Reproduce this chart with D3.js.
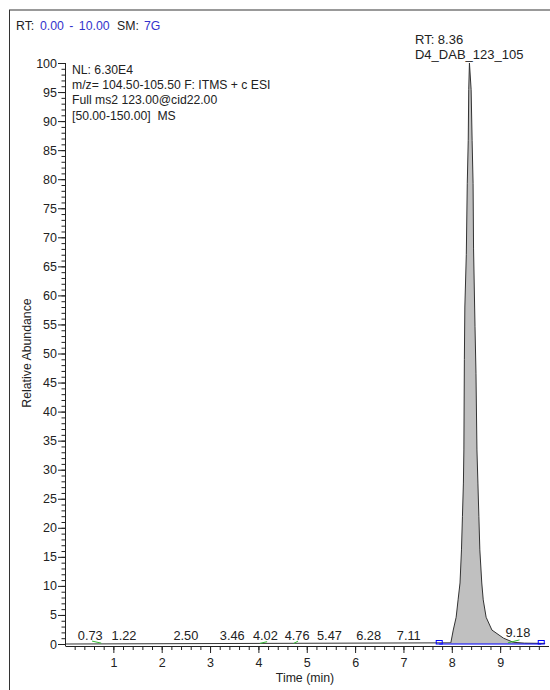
<!DOCTYPE html>
<html>
<head>
<meta charset="utf-8">
<script src="https://cdn.jsdelivr.net/npm/d3@7"></script>
<style>
  body { margin: 0; background: #fff; }
  svg { display: block; font-family: "Liberation Sans", Arial, sans-serif; }
</style>
</head>
<body>
<div id="chart"></div>
<script>
// chromatogram trace (time in min, relative abundance in %)
const timeMin = [0, 7.98, 8.03, 8.09, 8.13, 8.17, 8.20, 8.22, 8.24, 8.25, 8.26, 8.27, 8.30, 8.32, 8.34, 8.35, 8.365,
  8.40, 8.42, 8.44, 8.45, 8.48, 8.50, 8.52, 8.54, 8.56, 8.58, 8.62, 8.65, 8.71, 8.83, 9.07, 9.27, 9.50, 9.93];
const abundance = [0, 0.2, 2.4, 4.6, 7.6, 10.5, 16.2, 21.9, 27.7, 33.4, 49, 58, 67, 79.3, 86.7, 95.4, 100,
  95.4, 86.7, 79.3, 68, 54.6, 46.6, 33.4, 27.7, 21.9, 16.2, 10.5, 7.6, 4.6, 2.4, 1.0, 0.3, 0.15, 0.1];

// labelled minor peaks
const minorPeaks = [0.73, 1.22, 2.50, 3.46, 4.02, 4.76, 5.47, 6.28, 7.11, 9.18];
const minorLevels = [0.1, 0.1, 0.1, 0.1, 0.1, 0.1, 0.1, 0.1, 0.1, 0.7];
const labelNudge = [-10, 0, 0, 0, 6, 2, 0, 0, 0, 9];

// small green apex marks [t0, a0, t1, a1]
const greenMarks = [
  [0.56, 0.5, 0.75, 0.15],
  [4.03, 0.1, 4.18, 0.4],
  [4.73, 0.1, 4.82, 0.5],
  [9.16, 0.2, 9.40, 0.7]
];

// integration baseline
const baseStart = 7.74, baseEnd = 9.85;

const apexTime = 8.36;
const apexLines = ["RT: 8.36", "D4_DAB_123_105"];
const infoLines = ["NL: 6.30E4", "m/z= 104.50-105.50 F: ITMS + c ESI", "Full ms2 123.00@cid22.00", "[50.00-150.00]  MS"];

const W = 550, H = 690;
const svg = d3.select("#chart").append("svg")
  .attr("width", W).attr("height", H);

const x = d3.scaleLinear().domain([0, 10]).range([65, 548.5]);
const y = d3.scaleLinear().domain([0, 100]).range([644, 63]);
const axisY = 646;
const ink = "#222";

// frame
svg.append("line").attr("x1", 9).attr("x2", W).attr("y1", 10).attr("y2", 10)
  .attr("stroke", "#999").attr("stroke-width", 2);
svg.append("line").attr("x1", 9.5).attr("x2", 9.5).attr("y1", 10).attr("y2", H)
  .attr("stroke", "#333").attr("stroke-width", 1);

// header
const head = svg.append("text").attr("y", 30)
  .attr("font-size", 12.3).attr("fill", ink);
head.append("tspan").attr("x", 16).text("RT:");
head.append("tspan").attr("x", 40).attr("fill", "#3333cc")
  .attr("word-spacing", 2).text("0.00 - 10.00");
head.append("tspan").attr("x", 117).text("SM:");
head.append("tspan").attr("x", 144).attr("fill", "#3333cc").text("7G");

// info block
svg.append("g").selectAll("text").data(infoLines).join("text")
  .attr("x", 72).attr("y", (d, i) => 74 + i * 15.2)
  .attr("font-size", 12.2).attr("fill", ink)
  .style("white-space", "pre").text(d => d);

// peak fill and trace
const pts = timeMin.map((t, i) => [t, abundance[i]]);
svg.append("path").datum(pts.filter(d => d[0] >= 7.9))
  .attr("d", d3.area().x(d => x(d[0])).y0(y(0)).y1(d => y(d[1])))
  .attr("fill", "#c0c0c0");

svg.append("path").datum(pts)
  .attr("d", d3.line().x(d => x(d[0])).y(d => y(d[1])))
  .attr("fill", "none").attr("stroke", "#333").attr("stroke-width", 1);

// green apex marks
svg.append("g").selectAll("line").data(greenMarks).join("line")
  .attr("x1", d => x(d[0])).attr("y1", d => y(d[1]))
  .attr("x2", d => x(d[2])).attr("y2", d => y(d[3]))
  .attr("stroke", "#33bb33").attr("stroke-width", 1);

// integration baseline
svg.append("line").attr("x1", x(baseStart)).attr("x2", x(baseEnd))
  .attr("y1", y(0)).attr("y2", y(0))
  .attr("stroke", "#0000ff").attr("stroke-width", 1);
svg.append("g").selectAll("rect").data([baseStart, baseEnd]).join("rect")
  .attr("x", d => x(d) - 3).attr("y", y(0) - 3.5)
  .attr("width", 6).attr("height", 3.5)
  .attr("fill", "none").attr("stroke", "#0000ff").attr("stroke-width", 1);

// minor peak labels
svg.append("g").selectAll("text").data(minorPeaks).join("text")
  .attr("x", (d, i) => x(d) + labelNudge[i])
  .attr("y", (d, i) => y(minorLevels[i]) - 3)
  .attr("text-anchor", "middle").attr("font-size", 12.8).attr("fill", ink)
  .text(d => d.toFixed(2));

// apex label
const apexG = svg.append("g");
const apexText = apexG.selectAll("text").data(apexLines).join("text")
  .attr("y", (d, i) => 44 + i * 15)
  .attr("font-size", 13).attr("fill", ink).text(d => d);
const maxW = d3.max(apexText.nodes(), n => n.getComputedTextLength());
apexText.attr("x", x(apexTime) - maxW / 2);

// x axis
const xMinor = d3.range(1, 50).map(i => i / 5);
svg.append("g").attr("transform", `translate(0,${axisY})`)
  .call(d3.axisBottom(x).tickValues(xMinor).tickSize(4).tickSizeOuter(0).tickFormat(""))
  .call(g => g.selectAll("line").attr("stroke", ink))
  .call(g => g.select(".domain").attr("stroke", ink));
svg.append("g").attr("transform", `translate(0,${axisY})`)
  .call(d3.axisBottom(x).tickValues(d3.range(1, 10)).tickSize(7).tickPadding(5.5).tickFormat(d3.format("d")))
  .call(g => g.select(".domain").remove())
  .call(g => g.selectAll("line").attr("stroke", ink))
  .call(g => g.selectAll("text").attr("font-size", 12.5).attr("fill", ink)
    .attr("font-family", "Liberation Sans, Arial, sans-serif"));

// y axis
svg.append("g").attr("transform", "translate(65,0)")
  .call(d3.axisLeft(y).tickValues(d3.range(0, 101)).tickSize(3.5).tickFormat(""))
  .call(g => g.select(".domain").remove())
  .call(g => g.selectAll("line").attr("stroke", ink));
svg.append("g").attr("transform", "translate(65,0)")
  .call(d3.axisLeft(y).tickValues(d3.range(0, 101, 5)).tickSize(7).tickPadding(1).tickFormat(d3.format("d")))
  .call(g => g.select(".domain").remove())
  .call(g => g.selectAll("line").attr("stroke", ink))
  .call(g => g.selectAll("text").attr("font-size", 12.5).attr("fill", ink)
    .attr("font-family", "Liberation Sans, Arial, sans-serif"));
svg.append("line").attr("x1", 65.5).attr("x2", 65.5).attr("y1", y(100)).attr("y2", axisY)
  .attr("stroke", ink);

// axis titles
svg.append("text").attr("x", 305).attr("y", 682)
  .attr("text-anchor", "middle").attr("font-size", 12.3).attr("fill", ink)
  .text("Time (min)");
svg.append("text").attr("transform", "translate(31,353) rotate(-90)")
  .attr("text-anchor", "middle").attr("font-size", 12.3).attr("fill", ink)
  .text("Relative Abundance");
</script>
</body>
</html>
